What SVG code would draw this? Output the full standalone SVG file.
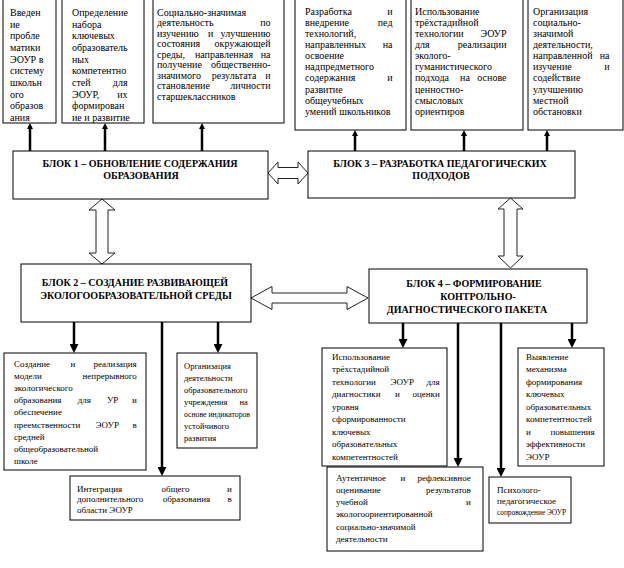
<svg xmlns="http://www.w3.org/2000/svg" width="624" height="568" viewBox="0 0 624 568">
<style>
text{font-family:"Liberation Serif","Times New Roman",serif;fill:#000}
.t{font-size:10px}
.s{font-size:9px}
.b{font-size:10px;font-weight:bold}
.box{fill:#fff;stroke:#000;stroke-width:1}
.ha{fill:#fff;stroke:#222;stroke-width:1}
.up{stroke:#000;stroke-width:2.5;fill:none;marker-end:url(#hu)}
.dn{stroke:#000;stroke-width:2.5;fill:none;marker-end:url(#hd)}
</style>
<defs>
<marker id="hu" viewBox="0 0 10 10" refX="0" refY="5" markerWidth="6" markerHeight="7" markerUnits="userSpaceOnUse" orient="auto"><path d="M0,0L10,5L0,10z" fill="#000"/></marker>
<marker id="hd" viewBox="0 0 10 10" refX="0" refY="5" markerWidth="9" markerHeight="9" markerUnits="userSpaceOnUse" orient="auto"><path d="M0,0L10,5L0,10z" fill="#000"/></marker>
</defs>
<rect width="624" height="568" fill="#fff"/>

<g id="connectors">
<line class="up" x1="30" y1="151" x2="30" y2="129"/>
<line class="up" x1="105" y1="151" x2="105" y2="129"/>
<line class="up" x1="202" y1="151" x2="202" y2="129"/>
<line class="up" x1="355" y1="151" x2="355" y2="136"/>
<line class="up" x1="464" y1="151" x2="464" y2="136"/>
<line class="up" x1="547" y1="151" x2="547" y2="136"/>
<polygon class="ha" points="268,173 278,162 278,167.5 298,167.5 298,162 308,173 298,184 298,178.5 278,178.5 278,184"/>
<polygon class="ha" points="102,199 115,210 108,210 108,253 115,253 102,264 89,253 96,253 96,210 89,210"/>
<polygon class="ha" points="510.5,198 523,209 517,209 517,256 523,256 510.5,268 498,256 504,256 504,209 498,209"/>
<polygon class="ha" points="251,298 272,286.5 272,293 347,293 347,286.5 368,298 347,309.5 347,303 272,303 272,309.5"/>
<line class="dn" x1="74" y1="322" x2="74" y2="344"/>
<line class="dn" x1="218" y1="322" x2="218" y2="344"/>
<line class="dn" x1="162" y1="322" x2="162" y2="467"/>
<line class="dn" x1="403" y1="323" x2="403" y2="339"/>
<line class="dn" x1="572" y1="323" x2="572" y2="339"/>
<line class="dn" x1="458" y1="323" x2="458" y2="458"/>
<line class="dn" x1="501" y1="323" x2="501" y2="468"/>
</g>

<g id="top1">
<rect class="box" x="3" y="-2" width="53" height="125"/>
<text class="t">
<tspan x="10" y="15.8">Введен</tspan>
<tspan x="10" y="27.5">ие</tspan>
<tspan x="10" y="39.1">пробле</tspan>
<tspan x="10" y="50.8">матики</tspan>
<tspan x="10" y="62.5">ЭОУР</tspan><tspan x="46" y="62.5" text-anchor="end">в</tspan>
<tspan x="10" y="74.2">систему</tspan>
<tspan x="10" y="85.8">школьн</tspan>
<tspan x="10" y="97.5">ого</tspan>
<tspan x="10" y="109.2">образов</tspan>
<tspan x="10" y="120.8">ания</tspan>
</text>
</g>

<g id="top2">
<rect class="box" x="62" y="-2" width="82" height="125"/>
<text class="t">
<tspan x="72" y="15.8">Определение</tspan>
<tspan x="72" y="27.5">набора</tspan>
<tspan x="72" y="39.1">ключевых</tspan>
<tspan x="72" y="50.8">образователь</tspan>
<tspan x="72" y="62.5">ных</tspan>
<tspan x="72" y="74.2">компетентно</tspan>
<tspan x="72" y="85.8">стей</tspan><tspan x="130" y="85.8" text-anchor="end">для</tspan>
<tspan x="72" y="97.5">ЭОУР,</tspan><tspan x="130" y="97.5" text-anchor="end">их</tspan>
<tspan x="72" y="109.2">формирован</tspan>
<tspan x="72" y="120.8">ие и развитие</tspan>
</text>
</g>

<g id="top3">
<rect class="box" x="153" y="-2" width="131" height="125"/>
<text class="t">
<tspan x="157" y="15.8">Социально-значимая</tspan>
<tspan x="157" y="26.3">деятельность</tspan><tspan x="273" y="26.3" text-anchor="end">по</tspan>
<tspan x="157" y="36.8">изучению</tspan><tspan x="208.1" y="36.8">и</tspan><tspan x="273" y="36.8" text-anchor="end">улучшению</tspan>
<tspan x="157" y="47.3">состояния</tspan><tspan x="273" y="47.3" text-anchor="end">окружающей</tspan>
<tspan x="157" y="57.8">среды,</tspan><tspan x="194.9" y="57.8">направленная</tspan><tspan x="273" y="57.8" text-anchor="end">на</tspan>
<tspan x="157" y="68.3">получение</tspan><tspan x="273" y="68.3" text-anchor="end">общественно-</tspan>
<tspan x="157" y="78.8">значимого</tspan><tspan x="211.8" y="78.8">результата</tspan><tspan x="273" y="78.8" text-anchor="end">и</tspan>
<tspan x="157" y="89.3">становление</tspan><tspan x="273" y="89.3" text-anchor="end">личности</tspan>
<tspan x="157" y="99.8">старшеклассников</tspan>
</text>
</g>

<g id="top4">
<rect class="box" x="295" y="-2" width="111" height="132"/>
<text class="t">
<tspan x="305" y="14.5">Разработка</tspan><tspan x="395" y="14.5" text-anchor="end">и</tspan>
<tspan x="305" y="25.7">внедрение</tspan><tspan x="395" y="25.7" text-anchor="end">пед</tspan>
<tspan x="305" y="36.8">технологий,</tspan>
<tspan x="305" y="48">направленных</tspan><tspan x="395" y="48" text-anchor="end">на</tspan>
<tspan x="305" y="59.1">освоение</tspan>
<tspan x="305" y="70.3">надпредметного</tspan>
<tspan x="305" y="81.4">содержания</tspan><tspan x="395" y="81.4" text-anchor="end">и</tspan>
<tspan x="305" y="92.6">развитие</tspan>
<tspan x="305" y="103.7">общеучебных</tspan>
<tspan x="305" y="114.9">умений школьников</tspan>
</text>
</g>

<g id="top5">
<rect class="box" x="411" y="-2" width="112" height="132"/>
<text class="t">
<tspan x="415" y="14.5">Использование</tspan>
<tspan x="415" y="25.7">трёхстадийной</tspan>
<tspan x="415" y="36.8">технологии</tspan><tspan x="509" y="36.8" text-anchor="end">ЭОУР</tspan>
<tspan x="415" y="48">для</tspan><tspan x="509" y="48" text-anchor="end">реализации</tspan>
<tspan x="415" y="59.1">эколого-</tspan>
<tspan x="415" y="70.3">гуманистического</tspan>
<tspan x="415" y="81.4">подхода</tspan><tspan x="460.1" y="81.4">на</tspan><tspan x="509" y="81.4" text-anchor="end">основе</tspan>
<tspan x="415" y="92.6">ценностно-</tspan>
<tspan x="415" y="103.7">смысловых</tspan>
<tspan x="415" y="114.9">ориентиров</tspan>
</text>
</g>

<g id="top6">
<rect class="box" x="528" y="-2" width="95" height="132"/>
<text class="t">
<tspan x="533" y="14.5">Организация</tspan>
<tspan x="533" y="25.7">социально-</tspan>
<tspan x="533" y="36.8">значимой</tspan>
<tspan x="533" y="48">деятельности,</tspan>
<tspan x="533" y="59.1">направленной</tspan><tspan x="612" y="59.1" text-anchor="end">на</tspan>
<tspan x="533" y="70.3">изучение</tspan><tspan x="612" y="70.3" text-anchor="end">и</tspan>
<tspan x="533" y="81.4">содействие</tspan>
<tspan x="533" y="92.6">улучшению</tspan>
<tspan x="533" y="103.7">местной</tspan>
<tspan x="533" y="114.9">обстановки</tspan>
</text>
</g>

<g id="block1">
<rect class="box" x="13" y="151" width="255" height="48"/>
<text class="b" text-anchor="middle"><tspan x="140" y="166.5">БЛОК 1 – ОБНОВЛЕНИЕ СОДЕРЖАНИЯ</tspan><tspan x="141" y="178.5">ОБРАЗОВАНИЯ</tspan></text>
</g>

<g id="block3">
<rect class="box" x="308" y="151" width="267" height="47"/>
<text class="b" text-anchor="middle"><tspan x="440" y="166.5">БЛОК 3 – РАЗРАБОТКА ПЕДАГОГИЧЕСКИХ</tspan><tspan x="441" y="178.5">ПОДХОДОВ</tspan></text>
</g>

<g id="block2">
<rect class="box" x="21" y="264" width="230" height="58"/>
<text class="b" text-anchor="middle"><tspan x="135" y="285.5">БЛОК 2 – СОЗДАНИЕ РАЗВИВАЮЩЕЙ</tspan><tspan x="136" y="298.5">ЭКОЛОГООБРАЗОВАТЕЛЬНОЙ СРЕДЫ</tspan></text>
</g>

<g id="block4">
<rect class="box" x="369" y="269" width="218" height="54"/>
<text class="b" text-anchor="middle"><tspan x="474" y="286.5">БЛОК 4 – ФОРМИРОВАНИЕ</tspan><tspan x="478" y="299.5">КОНТРОЛЬНО-</tspan><tspan x="467" y="312.5">ДИАГНОСТИЧЕСКОГО ПАКЕТА</tspan></text>
</g>

<g id="b2-1">
<rect class="box" x="4" y="353" width="142" height="117"/>
<text class="s">
<tspan x="14" y="366.5">Создание</tspan><tspan x="70.6" y="366.5">и</tspan><tspan x="139" y="366.5" text-anchor="end">реализация</tspan>
<tspan x="14" y="378.7">модели</tspan><tspan x="139" y="378.7" text-anchor="end">непрерывного</tspan>
<tspan x="14" y="390.9">экологического</tspan>
<tspan x="14" y="403.1">образования</tspan><tspan x="77.7" y="403.1">для</tspan><tspan x="106.9" y="403.1">УР</tspan><tspan x="139" y="403.1" text-anchor="end">и</tspan>
<tspan x="14" y="415.3">обеспечение</tspan>
<tspan x="14" y="427.5">преемственности</tspan><tspan x="95.5" y="427.5">ЭОУР</tspan><tspan x="139" y="427.5" text-anchor="end">в</tspan>
<tspan x="14" y="439.7">средней</tspan>
<tspan x="14" y="451.9">общеобразовательной</tspan>
<tspan x="14" y="464.1">школе</tspan>
</text>
</g>

<g id="b2-2">
<rect class="box" x="177" y="353" width="80" height="95"/>
<text class="s" style="font-size:8.5px">
<tspan x="184" y="368.5">Организация</tspan>
<tspan x="184" y="380.6">деятельности</tspan>
<tspan x="184" y="392.7">образовательного</tspan>
<tspan x="184" y="404.8">учреждения</tspan><tspan x="250" y="404.8" text-anchor="end">на</tspan>
<tspan x="184" y="416.9" textLength="66" lengthAdjust="spacingAndGlyphs">основе индикаторов</tspan>
<tspan x="184" y="429">устойчивого</tspan>
<tspan x="184" y="441.1">развития</tspan>
</text>
</g>

<g id="b2-3">
<rect class="box" x="70" y="476" width="170" height="44"/>
<text class="s">
<tspan x="77" y="491.5">Интеграция</tspan><tspan x="161.6" y="491.5">общего</tspan><tspan x="234" y="491.5" text-anchor="end">и</tspan>
<tspan x="77" y="502">дополнительного</tspan><tspan x="162.7" y="502">образования</tspan><tspan x="234" y="502" text-anchor="end">в</tspan>
<tspan x="77" y="512.5">области ЭОУР</tspan>
</text>
</g>

<g id="b4-1">
<rect class="box" x="322" y="348" width="125" height="118"/>
<text class="s">
<tspan x="332" y="359.5">Использование</tspan>
<tspan x="332" y="372">трёхстадийной</tspan>
<tspan x="332" y="384.5">технологии</tspan><tspan x="390.5" y="384.5">ЭОУР</tspan><tspan x="442" y="384.5" text-anchor="end">для</tspan>
<tspan x="332" y="397">диагностики</tspan><tspan x="395.1" y="397">и</tspan><tspan x="442" y="397" text-anchor="end">оценки</tspan>
<tspan x="332" y="409.5">уровня</tspan>
<tspan x="332" y="422">сформированности</tspan>
<tspan x="332" y="434.5">ключевых</tspan>
<tspan x="332" y="447">образовательных</tspan>
<tspan x="332" y="459.5">компетентностей</tspan>
</text>
</g>

<g id="b4-2">
<rect class="box" x="327" y="467" width="156" height="84"/>
<text class="s">
<tspan x="336" y="480.5">Аутентичное</tspan><tspan x="400.5" y="480.5">и</tspan><tspan x="473" y="480.5" text-anchor="end">рефлексивное</tspan>
<tspan x="336" y="492.8">оценивание</tspan><tspan x="473" y="492.8" text-anchor="end">результатов</tspan>
<tspan x="336" y="505.1">учебной</tspan><tspan x="473" y="505.1" text-anchor="end">и</tspan>
<tspan x="336" y="517.4">экологоориентированной</tspan>
<tspan x="336" y="529.7">социально-значимой</tspan>
<tspan x="336" y="542">деятельности</tspan>
</text>
</g>

<g id="b4-3">
<rect class="box" x="489" y="477" width="82" height="46"/>
<text class="s">
<tspan x="497" y="492.5">Психолого-</tspan>
<tspan x="497" y="503.5">педагогическое</tspan>
<tspan x="497" y="514.5" textLength="69" lengthAdjust="spacingAndGlyphs">сопровождение ЭОУР</tspan>
</text>
</g>

<g id="b4-4">
<rect class="box" x="518" y="348" width="86" height="118"/>
<text class="s">
<tspan x="526" y="359.5">Выявление</tspan>
<tspan x="526" y="372">механизма</tspan>
<tspan x="526" y="384.5">формирования</tspan>
<tspan x="526" y="397">ключевых</tspan>
<tspan x="526" y="409.5">образовательных</tspan>
<tspan x="526" y="422">компетентностей</tspan>
<tspan x="526" y="434.5">и</tspan><tspan x="597" y="434.5" text-anchor="end">повышения</tspan>
<tspan x="526" y="447">эффективности</tspan>
<tspan x="526" y="459.5">ЭОУР</tspan>
</text>
</g>
</svg>
